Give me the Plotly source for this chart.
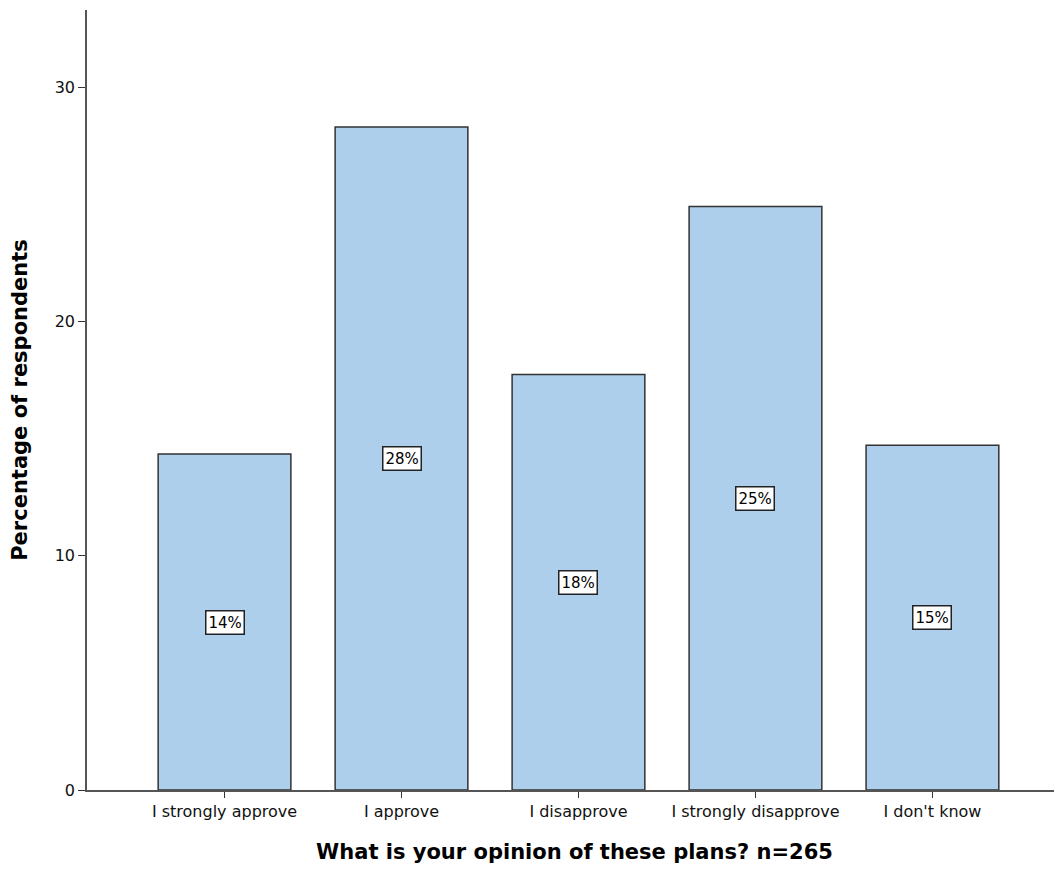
import plotly.graph_objects as go

categories = ["I strongly approve", "I approve", "I disapprove", "I strongly disapprove", "I don't know"]
counts = [38, 75, 47, 66, 39]
n_total = 265
percentages = [c / n_total * 100 for c in counts]
labels = [f"{round(p)}%" for p in percentages]

x_pos = list(range(len(categories)))

fig = go.Figure()
fig.add_trace(go.Bar(
    x=x_pos, y=percentages, width=0.75,
    marker=dict(color="#AECFEB", line=dict(color="#333333", width=1.5)),
    hoverinfo="skip", showlegend=False,
))

for xi, p, lab in zip(x_pos, percentages, labels):
    fig.add_annotation(
        x=xi, y=p / 2, text=lab, showarrow=False,
        font=dict(family="DejaVu Sans", size=15, color="black"),
        bgcolor="white", bordercolor="#222222", borderwidth=1.5, borderpad=2,
    )

fig.update_layout(
    width=1054, height=856,
    margin=dict(l=79, r=0, t=2, b=74),
    paper_bgcolor="white", plot_bgcolor="white",
    font=dict(family="DejaVu Sans", size=15, color="black"),
    xaxis=dict(
        range=[-0.777, 4.732], tickvals=x_pos, ticktext=categories,
        showline=True, linecolor="#555555", linewidth=1.5,
        ticks="outside", ticklen=6, tickcolor="#333333",
        showgrid=False, zeroline=False,
        tickfont=dict(size=16, color="#111111"),
        title=dict(text="<b>What is your opinion of these plans? n=265</b>",
                   font=dict(family="DejaVu Sans", size=21), standoff=28),
    ),
    yaxis=dict(
        range=[0, 33.3], tickvals=[0, 10, 20, 30],
        showline=True, linecolor="#555555", linewidth=1.5,
        ticks="outside", ticklen=7, tickcolor="#333333",
        showgrid=False, zeroline=False,
        tickfont=dict(size=16, color="#111111"),
        title=dict(text="<b>Percentage of respondents</b>",
                   font=dict(family="DejaVu Sans", size=21), standoff=22),
    ),
)

fig.write_html("out.html")
